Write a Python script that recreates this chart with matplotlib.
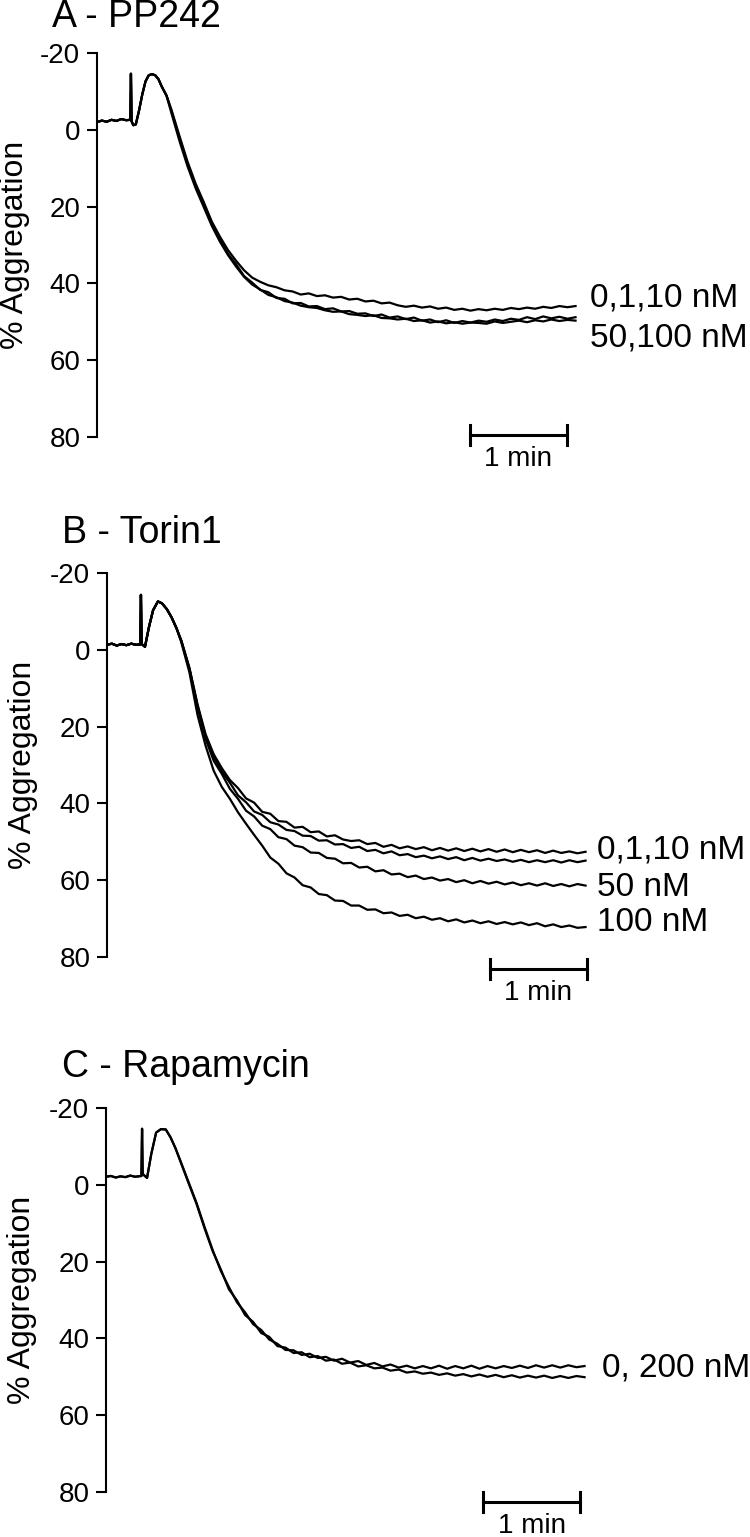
import numpy as np
import matplotlib
matplotlib.use('Agg')
import matplotlib.pyplot as plt

plt.rcParams['font.family'] = ['Liberation Sans', 'DejaVu Sans']
plt.rcParams['axes.unicode_minus'] = False

# ---- data: time in s, aggregation in % ----
t_tail = np.arange(46, 297, 5)

tA_head = [0, 3, 6, 9, 12, 15, 18, 20.6, 21.0, 21.4, 22.5, 24, 26, 28, 30, 32, 34, 36, 38, 40, 43]
A_head = [-2.0, -2.4, -2.1, -2.6, -2.3, -2.8, -2.5, -2.6, -14.6, -2.2, -1.2, -1.4, -5.0, -9.2,
          -12.6, -14.2, -14.5, -14.2, -13.2, -11.3, -8.9]
A_up = [-5.3, 1.6, 8.3, 14.0, 18.8, 23.9, 27.8, 31.3, 34.1, 36.6, 38.5, 39.6, 40.5, 41.0, 41.8,
        42.1, 42.9, 42.6, 43.3, 43.1, 43.7, 43.5, 44.2, 44.0, 44.7, 44.5, 45.2, 45.0, 45.7, 46.1,
        45.8, 46.3, 46.0, 46.6, 46.3, 46.9, 46.6, 47.1, 46.7, 47.0, 46.6, 46.9, 46.4, 46.7, 46.3,
        46.6, 46.1, 46.4, 45.9, 46.2, 45.9]
A_lo1 = [-5.0, 2.1, 8.8, 14.7, 19.3, 24.6, 28.4, 32.3, 35.0, 38.1, 39.8, 41.7, 42.3, 43.8, 44.0,
         45.2, 45.1, 46.0, 45.9, 46.7, 46.5, 47.3, 47.2, 47.9, 47.8, 48.5, 48.1, 48.9, 48.6, 49.3,
         48.9, 49.7, 49.4, 50.1, 49.6, 50.3, 49.8, 50.2, 49.7, 50.0, 49.4, 49.8, 49.2, 49.5, 48.8,
         49.3, 48.6, 49.1, 48.7, 49.2, 48.8]
A_lo2 = [-4.4, 2.9, 9.5, 15.2, 20.1, 25.0, 29.1, 32.6, 35.6, 38.3, 40.3, 41.6, 43.0, 43.6, 44.6,
         45.0, 45.8, 46.2, 46.4, 47.0, 47.4, 47.3, 48.0, 48.2, 48.5, 48.3, 49.0, 49.1, 49.4, 49.2,
         49.8, 49.6, 50.2, 49.9, 50.4, 50.1, 50.5, 50.2, 50.3, 50.5, 49.9, 50.3, 50.0, 49.7, 50.1,
         49.6, 49.9, 49.4, 49.8, 49.5, 49.7]

tB_head = [0, 3, 6, 9, 12, 15, 18, 20.6, 21.0, 21.4, 23.5, 26, 28.5, 31.5, 34, 37, 40, 43]
B_head = [-1.3, -1.6, -1.1, -1.5, -1.2, -1.6, -1.3, -1.4, -14.3, -1.5, -0.8, -6.0, -10.3, -12.6,
          -12.1, -10.6, -8.4, -5.6]
B_top = [-2.3, 4.7, 14.2, 22.0, 27.2, 30.8, 33.9, 36.0, 38.7, 39.8, 42.2, 42.7, 44.6, 44.8, 46.3,
         46.1, 47.5, 47.3, 48.6, 48.3, 49.4, 49.8, 49.6, 50.6, 50.3, 51.3, 50.8, 51.7, 51.2, 51.9,
         51.4, 52.2, 51.6, 52.3, 51.7, 52.4, 51.8, 52.5, 51.9, 52.6, 52.0, 52.7, 52.1, 52.7, 52.2,
         52.9, 52.3, 52.9, 52.5, 53.0, 52.6]
B_mid = [-2.4, 4.9, 14.6, 22.6, 27.8, 31.7, 34.6, 37.9, 39.7, 42.1, 43.0, 44.9, 45.5, 46.9, 47.2,
         48.4, 48.5, 49.7, 49.6, 50.7, 50.6, 51.6, 51.3, 52.4, 52.1, 53.0, 52.5, 53.5, 53.2, 54.0,
         53.6, 54.3, 53.8, 54.5, 54.0, 54.8, 54.2, 54.9, 54.4, 55.0, 54.6, 55.2, 54.7, 55.3, 54.8,
         55.3, 54.8, 55.4, 54.8, 55.3, 54.9]
B_50 = [-2.2, 5.1, 15.0, 23.2, 28.9, 32.3, 36.2, 38.8, 41.9, 43.4, 45.8, 46.7, 48.8, 49.3, 51.0,
        51.4, 52.8, 52.9, 54.2, 54.4, 55.6, 55.5, 56.7, 56.5, 57.7, 57.4, 58.5, 58.3, 59.2, 58.8,
        59.7, 59.3, 60.1, 59.7, 60.5, 60.0, 60.8, 60.2, 60.9, 60.4, 61.1, 60.6, 61.3, 60.8, 61.4,
        60.8, 61.5, 61.0, 61.6, 61.0, 61.4]
B_100 = [-1.9, 5.9, 17.0, 25.0, 31.5, 35.7, 38.8, 42.3, 45.3, 48.2, 51.0, 54.1, 55.7, 58.2, 59.3,
         61.3, 61.9, 63.6, 63.9, 65.3, 65.4, 66.6, 66.6, 67.7, 67.6, 68.6, 68.4, 69.3, 69.0, 69.9,
         69.5, 70.3, 69.9, 70.7, 70.2, 71.0, 70.5, 71.2, 70.7, 71.4, 70.9, 71.5, 71.0, 71.7, 71.2,
         72.0, 71.5, 72.2, 71.8, 72.4, 72.2]

tC_head = [0, 3, 6, 9, 12, 15, 18, 20, 21.9, 22.3, 22.7, 25.4, 28, 31, 34, 37, 40, 43]
C_head = [-2.1, -2.3, -1.9, -2.2, -2.0, -2.4, -2.1, -2.2, -2.3, -14.6, -2.8, -1.8, -8.0, -13.6,
          -14.5, -14.4, -12.3, -9.5]
C_1 = [-6.3, -0.8, 4.7, 11.0, 17.0, 22.4, 26.6, 30.6, 33.2, 36.3, 37.8, 40.3, 41.4, 43.0, 43.1,
       44.3, 44.0, 45.1, 44.8, 45.8, 45.3, 46.3, 45.9, 46.9, 46.4, 47.3, 46.8, 47.6, 47.1, 47.8,
       47.2, 47.8, 47.1, 47.9, 47.2, 47.8, 47.1, 47.9, 47.2, 47.8, 47.2, 47.7, 47.1, 47.7, 47.0,
       47.6, 47.0, 47.6, 47.0, 47.5, 47.2]
C_2 = [-6.1, -0.5, 5.0, 11.4, 17.3, 22.0, 27.2, 30.1, 33.9, 35.7, 38.6, 39.6, 42.0, 42.4, 43.8,
       43.6, 44.9, 44.6, 45.8, 45.5, 46.6, 46.3, 47.3, 47.0, 47.8, 47.6, 48.4, 48.1, 48.9, 48.6,
       49.2, 48.9, 49.5, 49.1, 49.7, 49.3, 49.9, 49.4, 50.0, 49.5, 50.1, 49.6, 50.2, 49.7, 50.2,
       49.7, 50.3, 49.8, 50.3, 49.8, 50.1]

yticks = [-20, 0, 20, 40, 60, 80]

# panel layout in pixels: (title, spine x, top y, time head, head, traces, labels,
#                          scalebar x0, bar y, title x, title y, ylabel x)
panels = [
    ('A - PP242', 97, 53, tA_head, A_head, [A_up, A_lo1, A_lo2],
     [('0,1,10 nM', 305, 43.8), ('50,100 nM', 305, 54.2)], 230.7, 79.5, 52, 17, 15),
    ('B - Torin1', 107, 573, tB_head, B_head, [B_top, B_mid, B_50, B_100],
     [('0,1,10 nM', 303, 52.1), ('50 nM', 303, 61.8), ('100 nM', 303, 71.1)], 236.9, 83.1, 62, 533, 23),
    ('C - Rapamycin', 106, 1108, tC_head, C_head, [C_1, C_2],
     [('0, 200 nM', 306.8, 47.7)], 233.2, 82.6, 62, 1067, 22),
]

W, H = 750, 1537
px_per_s = 97 / 60.0
fig = plt.figure(figsize=(W / 100, H / 100), dpi=100)

for title, x0, y0, th, vh, traces, labels, bx, by, tx, ty, lx0 in panels:
    ax = fig.add_axes([x0 / W, 1 - (y0 + 384) / H, (W - x0) / W, 384 / H])
    for tr in traces:
        ax.plot(list(th) + list(t_tail), list(vh) + list(tr), color='black', lw=1.6)
    ax.set_xlim(0, (W - x0) / px_per_s)
    ax.set_ylim(80, -20)
    ax.set_yticks(yticks)
    ax.tick_params(axis='y', labelsize=20, length=7, width=1.5, pad=5)
    ax.set_xticks([])
    for s in ['top', 'right', 'bottom']:
        ax.spines[s].set_visible(False)
    ax.spines['left'].set_linewidth(1.5)
    for txt, lx, ly in labels:
        ax.text(lx, ly, txt, fontsize=24, ha='left', va='center', clip_on=False)
    # scale bar 1 min
    ax.plot([bx, bx + 60], [by, by], color='black', lw=2.2, clip_on=False)
    for cx in (bx, bx + 60):
        ax.plot([cx, cx], [by - 2.6, by + 2.6], color='black', lw=2.2, clip_on=False)
    ax.text(bx + 30, by + 6.2, '1 min', fontsize=20, ha='center', va='center', clip_on=False)
    fig.text(tx / W, 1 - ty / H, title, fontsize=27, ha='left', va='center')
    fig.text(lx0 / W, 1 - (y0 + 192) / H, '% Aggregation', fontsize=23,
             rotation=90, ha='center', va='center')

fig.savefig('out.png', dpi=100)
